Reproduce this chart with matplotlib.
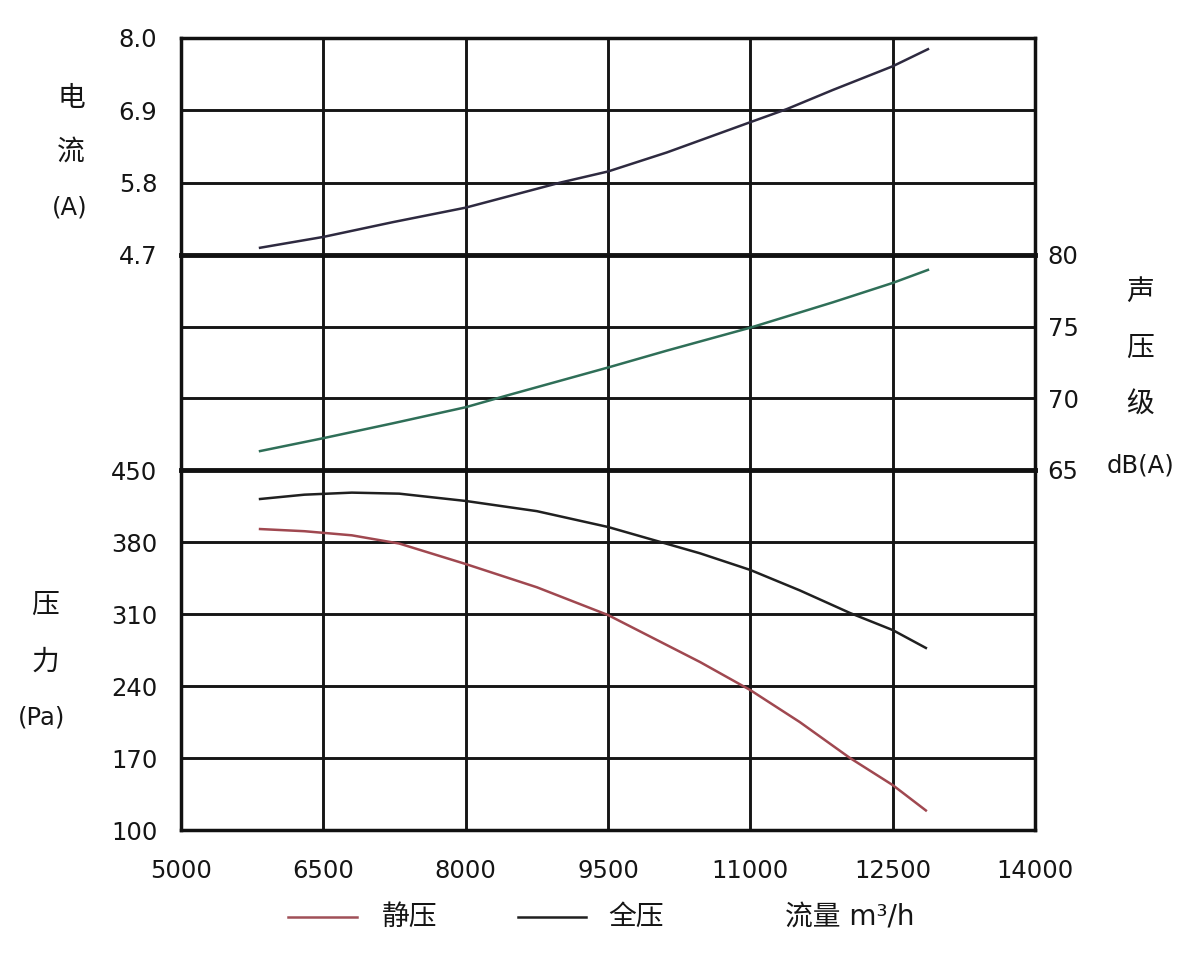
import matplotlib
matplotlib.use("Agg")
import matplotlib.pyplot as plt

plt.rcParams["font.family"] = ["DejaVu Sans", "Noto Sans CJK SC"]

# flow (m3/h) and the three readings
flow_current = [5833, 6500, 7234, 8000, 8994, 9500, 10121, 11000, 11386, 11870, 12500, 12872]
current = [4.81, 4.975, 5.20, 5.42, 5.80, 5.97, 6.26, 6.72, 6.92, 7.21, 7.57, 7.83]

flow_sound = [5833, 6500, 7234, 8000, 8436, 9500, 10121, 11000, 11870, 12500, 12872]
sound = [66.32, 67.22, 68.26, 69.38, 70.2, 72.15, 73.33, 74.93, 76.7, 78.05, 78.96]

flow_press = [5833, 6300, 6800, 7300, 8000, 8750, 9500, 10470, 11000, 11520, 12050, 12500, 12850]
total_press = [421.8, 426.0, 428.0, 427.0, 419.9, 410.0, 394.6, 369.0, 352.8, 333.0, 311.0, 294.4, 277.0]
static_press = [392.6, 390.5, 386.5, 378.5, 358.6, 336.0, 309.0, 263.3, 236.0, 205.0, 170.0, 143.7, 119.0]

x_ticks = [5000, 6500, 8000, 9500, 11000, 12500, 14000]
current_ticks = [4.7, 5.8, 6.9, 8.0]
sound_ticks = [65, 70, 75, 80]
press_ticks = [100, 170, 240, 310, 380, 450]

W, H = 1200, 955
fig = plt.figure(figsize=(W / 100, H / 100), dpi=100)
fig.patch.set_facecolor("white")

left = 181 / W
width = (1035 - 181) / W


def frac_box(top_px, bot_px):
    return [left, 1 - bot_px / H, width, (bot_px - top_px) / H]


ax_p = fig.add_axes(frac_box(470, 830))
ax_s = fig.add_axes(frac_box(255, 470), sharex=ax_p)
ax_c = fig.add_axes(frac_box(38, 255), sharex=ax_p)

grid_kw = dict(color="#151515", linewidth=2.1)
for ax in (ax_p, ax_s, ax_c):
    ax.set_facecolor("none")
    ax.set_xlim(5000, 14000)
    ax.set_xticks(x_ticks)
    ax.grid(True, **grid_kw)
    ax.set_axisbelow(True)
    ax.tick_params(length=0, labelsize=17.5, colors="#151515")
    for sp in ax.spines.values():
        sp.set_linewidth(2.5)
        sp.set_color("#111111")

# pressure section
ax_p.set_ylim(100, 450)
ax_p.set_yticks(press_ticks)
ax_p.set_yticklabels([str(v) for v in press_ticks])
ax_p.tick_params(axis="y", pad=17)
ax_p.tick_params(axis="x", pad=21)
ax_p.set_xticklabels([str(v) for v in x_ticks])
ax_p.spines["top"].set_visible(False)
ax_p.plot(flow_press, static_press, color="#a04850", lw=1.8, zorder=3)
ax_p.plot(flow_press, total_press, color="#202020", lw=1.8, zorder=3)

# sound section
ax_s.set_ylim(65, 80)
ax_s.set_yticks(sound_ticks)
ax_s.yaxis.tick_right()
ax_s.tick_params(axis="y", pad=9, labelleft=False, labelright=True)
ax_s.tick_params(axis="x", labelbottom=False)
ax_s.spines["top"].set_linewidth(3.5)
ax_s.spines["bottom"].set_linewidth(3.5)
ax_s.plot(flow_sound, sound, color="#2f6f58", lw=1.8, zorder=3)

# current section
ax_c.set_ylim(4.7, 8.0)
ax_c.set_yticks(current_ticks)
ax_c.set_yticklabels([f"{v:.1f}" for v in current_ticks])
ax_c.tick_params(axis="y", pad=17)
ax_c.tick_params(axis="x", labelbottom=False)
ax_c.spines["bottom"].set_visible(False)
ax_c.plot(flow_current, current, color="#2e2a40", lw=1.8, zorder=3)


def ftext(x_px, y_px, s, size=17.5):
    fig.text(x_px / W, 1 - y_px / H, s, ha="center", va="center",
             fontsize=size, color="#151515")


# side labels
for y_px, s in [(98, "电"), (152, "流")]:
    ftext(71, y_px, s, 20)
ftext(70, 208, "(A)")
for y_px, s in [(605, "压"), (662, "力")]:
    ftext(45, y_px, s, 20)
ftext(42, 718, "(Pa)")
for y_px, s in [(292, "声"), (348, "压"), (405, "级")]:
    ftext(1140, y_px, s, 20)
ftext(1140, 465, "dB(A)")

# bottom legend
fig.add_artist(plt.Line2D([288 / W, 357 / W], [1 - 917 / H] * 2, color="#a05058", lw=1.8))
fig.add_artist(plt.Line2D([518 / W, 586 / W], [1 - 917 / H] * 2, color="#202020", lw=1.8))
ftext(410, 917, "静压", 20)
ftext(636, 917, "全压", 20)
ftext(850, 917, "流量 m³/h", 20)

fig.savefig("out.png", dpi=100, facecolor="white")
